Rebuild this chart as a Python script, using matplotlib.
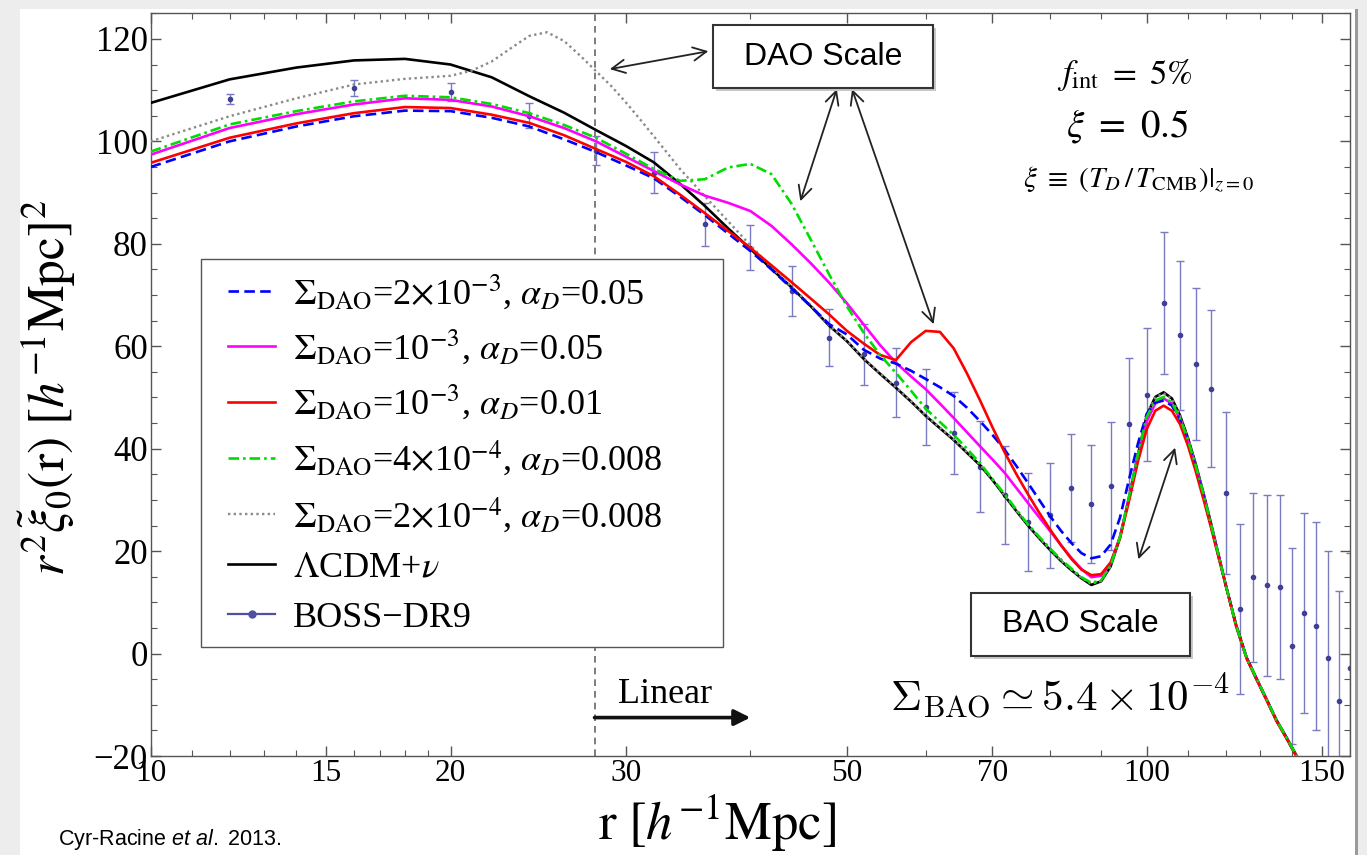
import matplotlib
matplotlib.use("Agg")
import matplotlib.pyplot as plt
from matplotlib.lines import Line2D
from matplotlib.patches import Rectangle
from matplotlib.ticker import FixedLocator, FixedFormatter, NullFormatter, MultipleLocator

plt.rcParams['font.family'] = ['Liberation Serif', 'DejaVu Serif']
plt.rcParams['mathtext.fontset'] = 'stix'
plt.rcParams['mathtext.rm'] = 'Liberation Sans'
plt.rcParams['mathtext.it'] = 'Liberation Sans:italic'

# model curves
r_model = [10, 12, 14, 16, 18, 20, 22, 24, 26, 28, 30, 32, 34, 36, 38, 40, 42, 44, 46, 48,
           50, 52, 54, 56, 58, 60, 62, 64, 66, 68, 70, 72, 74, 76, 78, 80, 82, 84, 86, 88,
           90, 92, 94, 96, 98, 100, 102, 104, 106, 108, 110, 112, 114, 116, 118, 120,
           123, 126, 129, 132, 135, 138, 141, 144]

xi_lcdm = [107.5, 112.1, 114.4, 115.8, 116.1, 115.0, 112.5, 108.8, 105.6, 102.2, 99.1, 95.9,
           91.7, 87.4, 83.0, 79.0, 75.1, 71.5, 67.8, 64.0, 61.0, 57.5, 54.6, 51.9, 49.2, 46.4,
           44.0, 41.7, 39.2, 36.8, 33.9, 30.8, 27.8, 25.0, 22.5, 20.2, 18.1, 16.3, 14.7, 13.4,
           14.1, 17.0, 22.6, 30.5, 38.8, 46.5, 50.1, 51.0, 49.8, 46.5, 42.1, 37.0, 31.4, 25.5,
           19.5, 13.5, 5.5, -0.8, -5.0, -9.0, -13.0, -16.2, -19.5, -22.5]

xi_dao_2e3_a05 = [95.0, 100.0, 102.9, 104.9, 106.0, 105.9, 104.6, 102.9, 100.4, 97.9, 95.3, 92.8,
                  89.2, 85.6, 82.0, 78.6, 75.0, 71.3, 67.8, 64.3, 62.3, 59.3, 57.6, 56.6, 55.2, 53.6,
                  52.0, 50.3, 48.0, 45.4, 42.7, 39.8, 36.6, 33.3, 30.0, 26.8, 24.0, 21.6, 19.6, 18.6,
                  19.0, 21.3, 26.5, 34.0, 41.0, 46.8, 49.0, 49.4, 48.4, 45.6, 41.2, 36.2, 30.8, 25.0,
                  19.2, 13.5, 5.4, -0.9, -5.1, -9.1, -13.1, -16.3, -19.6, -22.6]

xi_dao_1e3_a05 = [97.4, 102.6, 105.3, 107.2, 108.4, 108.1, 106.8, 104.9, 102.6, 100.0, 97.0, 94.2,
                  91.6, 89.4, 88.0, 86.4, 83.5, 79.9, 76.2, 72.4, 68.4, 64.2, 60.2, 56.8, 54.1, 51.6,
                  48.8, 46.0, 43.2, 40.5, 37.9, 35.3, 32.3, 29.4, 26.6, 23.9, 21.2, 18.7, 16.5, 14.9,
                  15.2, 17.6, 22.8, 30.3, 38.3, 45.3, 48.8, 49.8, 48.8, 45.8, 41.5, 36.5, 31.0, 25.2,
                  19.3, 13.5, 5.3, -0.9, -5.1, -9.1, -13.1, -16.3, -19.6, -22.6]

xi_dao_1e3_a01 = [95.8, 100.7, 103.5, 105.5, 106.7, 106.5, 105.2, 103.6, 101.2, 98.5, 96.0, 93.2,
                  89.6, 86.0, 82.5, 79.2, 75.8, 72.5, 69.3, 66.2, 63.0, 60.5, 58.3, 57.3, 60.8, 63.0,
                  62.8, 59.6, 54.7, 49.5, 44.2, 39.3, 35.0, 31.1, 27.5, 24.2, 21.2, 18.5, 16.4, 15.3,
                  15.5, 17.8, 22.5, 29.8, 37.5, 43.8, 47.4, 48.4, 47.4, 44.8, 40.6, 35.6, 30.2, 24.7,
                  19.0, 13.5, 5.3, -1.0, -5.2, -9.2, -13.2, -16.4, -19.7, -22.7]

xi_dao_4e4_a008 = [98.0, 103.3, 105.9, 107.8, 108.9, 108.6, 107.3, 105.5, 103.2, 100.7, 97.6, 94.6,
                   92.3, 92.6, 94.9, 95.6, 93.6, 87.8, 80.8, 74.0, 67.8, 62.6, 58.3, 54.8, 51.3, 47.8,
                   45.2, 42.7, 40.0, 37.2, 34.1, 31.1, 28.1, 25.2, 22.8, 20.5, 18.4, 16.6, 14.9, 13.8,
                   14.3, 17.2, 22.7, 30.6, 38.9, 46.2, 49.4, 50.1, 49.0, 46.0, 41.7, 36.7, 31.2, 25.3,
                   19.4, 13.5, 5.4, -0.9, -5.0, -9.0, -13.0, -16.2, -19.5, -22.5]

# the 2e-4 curve has a sharp peak near r=25, so it is sampled more finely there
r_gray = [10, 12, 14, 16, 18, 20, 21, 22, 23, 24, 25, 26, 27, 28, 29, 30, 31, 32, 34, 36, 38,
          40, 42, 44, 46, 48, 50, 52, 54, 56, 58, 60, 62, 64, 66, 68, 70, 72, 74, 76, 78, 80,
          82, 84, 86, 88, 90, 92, 94, 96, 98, 100, 102, 104, 106, 108, 110, 112, 114, 116,
          118, 120, 123, 126, 129, 132, 135, 138, 141, 144]
xi_dao_2e4_a008 = [100.0, 104.9, 108.4, 111.1, 112.2, 112.8, 113.8, 115.6, 118.2, 120.6, 121.3,
                   119.6, 116.7, 113.7, 110.8, 107.6, 104.3, 101.0, 94.6, 89.3, 84.4, 79.7, 75.4,
                   71.6, 68.0, 64.1, 61.1, 57.6, 54.7, 52.0, 49.3, 46.5, 44.1, 41.8, 39.3, 36.9,
                   34.0, 30.9, 27.9, 25.1, 22.6, 20.3, 18.2, 16.4, 14.8, 13.6, 14.2, 17.1, 22.7,
                   30.6, 38.9, 46.5, 50.0, 50.8, 49.7, 46.4, 42.0, 36.9, 31.3, 25.4, 19.5, 13.5,
                   5.5, -0.8, -5.0, -9.0, -13.0, -16.2, -19.5, -22.5]

# BOSS-DR9 points
r_boss = [12, 16, 20, 24, 28, 32, 36, 40, 44, 48, 52, 56, 60, 64, 68, 72, 76, 80, 84, 88,
          92, 96, 100, 104, 108, 112, 116, 120, 124, 128, 132, 136, 140, 144, 148, 152, 156, 160]
xi_boss = [108.3, 110.4, 109.6, 105.0, 98.2, 93.9, 83.8, 79.2, 70.8, 61.7, 58.4, 52.9, 48.2,
           43.0, 36.5, 30.9, 25.7, 27.0, 32.3, 29.2, 32.8, 44.9, 50.5, 68.4, 62.1, 56.5, 51.7,
           31.4, 8.7, 14.9, 13.3, 13.0, 1.5, 7.9, 5.4, -0.8, -9.3, -2.8]
err_boss = [1.0, 1.5, 1.8, 2.4, 2.9, 4.0, 4.2, 4.4, 4.9, 5.5, 6.0, 6.8, 7.4, 8.0, 8.9, 9.6,
            9.6, 10.3, 10.6, 11.5, 12.5, 12.9, 13.0, 13.9, 14.5, 14.9, 15.3, 15.8, 16.6, 16.5,
            17.7, 18.0, 19.1, 19.5, 20.3, 20.8, 21.5, 22.5]

x_ticks = [10, 15, 20, 30, 50, 70, 100, 150]
x_minor = [11, 12, 13, 14, 16, 17, 18, 19, 40, 60, 80, 90, 110, 120, 130, 140]
r_linear = 27.9

labels = [r"$\Sigma_{\rm DAO}$=2$\times$10$^{-3}$, $\alpha_D$=0.05",
          r"$\Sigma_{\rm DAO}$=10$^{-3}$, $\alpha_D$=0.05",
          r"$\Sigma_{\rm DAO}$=10$^{-3}$, $\alpha_D$=0.01",
          r"$\Sigma_{\rm DAO}$=4$\times$10$^{-4}$, $\alpha_D$=0.008",
          r"$\Sigma_{\rm DAO}$=2$\times$10$^{-4}$, $\alpha_D$=0.008",
          r"$\Lambda$CDM+$\nu$",
          "BOSS\u2212DR9"]

W, H = 1367, 855
fig = plt.figure(figsize=(W / 100, H / 100), dpi=100)
fig.patch.set_facecolor('#ededed')
fig.patches.append(Rectangle((20 / W, 0), 1336 / W, 1 - 9 / H, transform=fig.transFigure,
                             fc='white', ec='none', zorder=-2))
fig.patches.append(Rectangle((1355 / W, 0), 3 / W, 1 - 9 / H, transform=fig.transFigure,
                             fc='#9a9a9a', ec='none', zorder=-2))

ax = fig.add_axes([150.7 / W, 1 - 756 / H, 1199.3 / W, 742.7 / H])
ax.set_xscale('log')
ax.set_xlim(10, 160)
ax.set_ylim(-20, 125)

ax.errorbar(r_boss, xi_boss, yerr=err_boss, fmt='o', ms=3, color='#3f3f95', ecolor='#7a7ac2',
            elinewidth=1.0, capsize=3, capthick=1.0, zorder=2)

lw = 1.9
ax.plot(r_model, xi_lcdm, color='black', lw=lw, zorder=3)
ax.plot(r_gray, xi_dao_2e4_a008, color='#8a8a8a', lw=1.7, ls=(0, (1, 1.4)), zorder=3)
ax.plot(r_model, xi_dao_1e3_a05, color='#ff00ff', lw=lw, zorder=4)
ax.plot(r_model, xi_dao_2e3_a05, color='#0000ff', lw=lw, ls=(0, (4, 2)), zorder=4)
ax.plot(r_model, xi_dao_1e3_a01, color='#ff0000', lw=lw, zorder=5)
ax.plot(r_model, xi_dao_4e4_a008, color='#00dd00', lw=lw, ls=(0, (4, 1.5, 1, 1.5)), zorder=5)

ax.axvline(r_linear, color='#666666', lw=1.2, ls=(0, (4, 3)), zorder=1)

# axes style
ax.xaxis.set_major_locator(FixedLocator(x_ticks))
ax.xaxis.set_major_formatter(FixedFormatter([str(t) for t in x_ticks]))
ax.xaxis.set_minor_locator(FixedLocator(x_minor))
ax.xaxis.set_minor_formatter(NullFormatter())
ax.yaxis.set_major_locator(MultipleLocator(20))
ax.yaxis.set_minor_locator(MultipleLocator(5))
ax.tick_params(which='both', direction='in', top=True, right=True, color='#555555')
ax.tick_params(which='major', length=7, width=1.0)
ax.tick_params(which='minor', length=4, width=0.8)
ax.tick_params(axis='x', labelsize=22.5, pad=2)
ax.tick_params(axis='y', labelsize=25, pad=2)
for s in ax.spines.values():
    s.set_color('#555555')
    s.set_linewidth(1.0)

# legend: frame drawn separately so that it keeps the wide box of the original
ax.add_patch(Rectangle((0.0417, 0.1472), 0.4357, 0.5216, transform=ax.transAxes,
                       fc='white', ec='#555555', lw=1.0, zorder=5.5))
handles = [Line2D([], [], color='#0000ff', lw=lw, ls=(0, (4, 2))),
           Line2D([], [], color='#ff00ff', lw=lw),
           Line2D([], [], color='#ff0000', lw=lw),
           Line2D([], [], color='#00dd00', lw=lw, ls=(0, (4, 1.5, 1, 1.5))),
           Line2D([], [], color='#8a8a8a', lw=1.7, ls=(0, (1, 1.4))),
           Line2D([], [], color='black', lw=lw),
           Line2D([], [], color='#5050a0', lw=1.6, marker='o', ms=5)]
leg = ax.legend(handles, labels, loc='upper left', bbox_to_anchor=(0.0647, 0.651),
                fontsize=26, frameon=False, borderpad=0, labelspacing=0.46,
                handlelength=1.3, handletextpad=0.49, borderaxespad=0)
leg.set_zorder(6)

# annotations, boxes with a light drop shadow
shadow_kw = dict(transform=ax.transAxes, fc='#c8c8c8', ec='none', zorder=6.9)
box_kw = dict(transform=ax.transAxes, fc='white', ec='#333333', lw=1.5, zorder=7)
ax.add_patch(Rectangle((0.4716, 0.8950), 0.1835, 0.0852, **shadow_kw))
ax.add_patch(Rectangle((0.4691, 0.8990), 0.1835, 0.0852, **box_kw))
ax.text(0.5608, 0.9416, 'DAO Scale', transform=ax.transAxes, ha='center', va='center',
        fontsize=23, family='Liberation Sans', zorder=8)
ax.add_patch(Rectangle((0.6862, 0.1306), 0.1829, 0.0853, **shadow_kw))
ax.add_patch(Rectangle((0.6837, 0.1346), 0.1829, 0.0853, **box_kw))
ax.text(0.7752, 0.1773, 'BAO Scale', transform=ax.transAxes, ha='center', va='center',
        fontsize=23, family='Liberation Sans', zorder=8)

arr = dict(arrowstyle='<->', color='#222222', lw=1.3, shrinkA=0, shrinkB=0, mutation_scale=24)
ax.annotate('', xy=(28.9, 114.1), xytext=(36.3, 117.6), arrowprops=arr)
ax.annotate('', xy=(44.9, 88.3), xytext=(48.85, 110.2), arrowprops=arr)
ax.annotate('', xy=(61.1, 64.3), xytext=(50.6, 110.2), arrowprops=arr)
ax.annotate('', xy=(98.1, 18.4), xytext=(106.8, 40.2), arrowprops=arr)

ax.annotate('', xy=(40.0, -12.5), xytext=(r_linear, -12.5),
            arrowprops=dict(arrowstyle='-|>', color='#111111', lw=2.6, shrinkA=0, shrinkB=0,
                            mutation_scale=24))
ax.text(29.45, -9.6, 'Linear', ha='left', va='baseline', fontsize=26)

ax.text(0.7582, 0.0592, r'$\Sigma_{\rm BAO} \simeq 5.4 \times 10^{-4}$', transform=ax.transAxes,
        ha='center', va='baseline', fontsize=31, math_fontfamily='cm')

ax.text(0.8124, 0.917, r'$f_{\rm int}\ =\ 5\%$', transform=ax.transAxes, ha='center',
        va='center', fontsize=25)
ax.text(0.814, 0.847, r'$\xi\ =\ 0.5$', transform=ax.transAxes, ha='center', va='center',
        fontsize=28)
ax.text(0.824, 0.776, r'$\xi\ \equiv\ (T_D\,/\,T_{\rm CMB})|_{z=0}$', transform=ax.transAxes,
        ha='center', va='center', fontsize=21)

fig.text(47 / W, 1 - 388 / H, r'$r^2\tilde{\xi}_0(\mathrm{r})\ [h^{-1}\mathrm{Mpc}]^2$',
         rotation=90, ha='center', va='center', fontsize=37)
fig.text(717 / W, 1 - 840 / H, r'$\mathrm{r}\ [h^{-1}\mathrm{Mpc}]$', ha='center',
         va='baseline', fontsize=38)
fig.text(58 / W, 1 - 845 / H, r'Cyr-Racine $et\ al.$ 2013.', ha='left', va='baseline',
         fontsize=15.5, family='Liberation Sans', math_fontfamily='custom')

fig.savefig('out.png', dpi=100, facecolor=fig.get_facecolor())
